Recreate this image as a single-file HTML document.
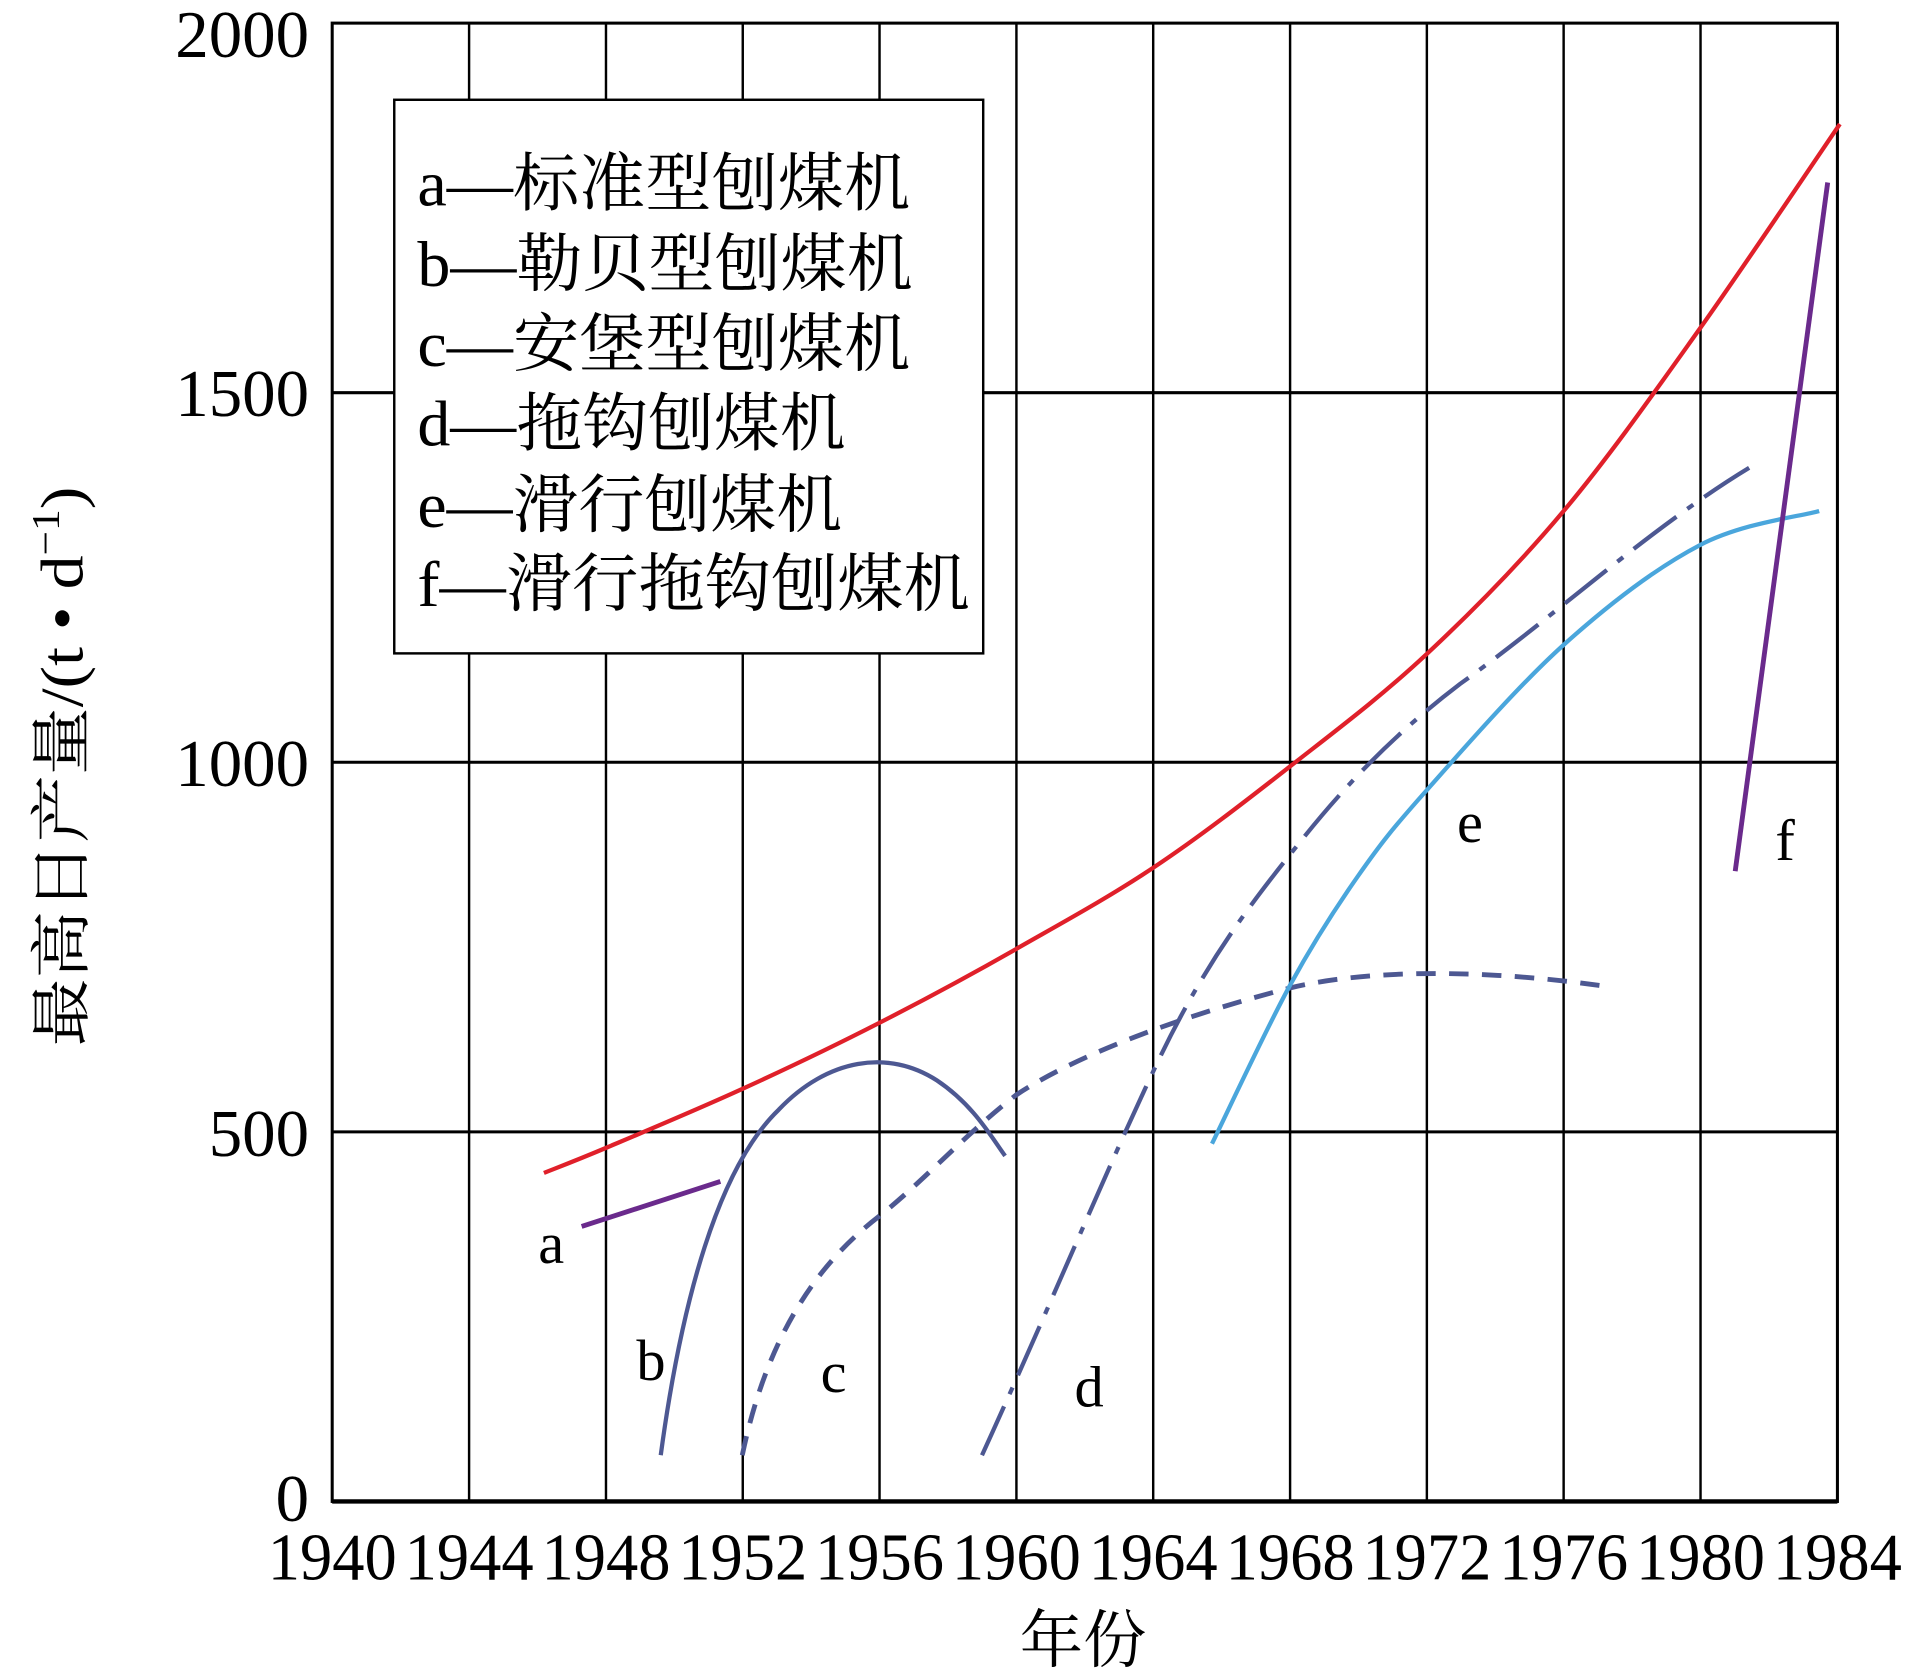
<!DOCTYPE html>
<html><head><meta charset="utf-8"><style>
html,body{margin:0;padding:0;background:#fff;}
svg{display:block;}
text{font-family:"Liberation Serif","Noto Serif CJK SC","Noto Sans CJK SC",serif;fill:#000;}
</style></head><body>
<svg width="1908" height="1673" viewBox="0 0 1568 1375" preserveAspectRatio="none" xmlns="http://www.w3.org/2000/svg">
<rect width="1568" height="1375" fill="#fff"/>
<g stroke="#000" stroke-width="2" fill="none">
<line x1="385.5" y1="19" x2="385.5" y2="1234"/>
<line x1="498" y1="19" x2="498" y2="1234"/>
<line x1="610.4" y1="19" x2="610.4" y2="1234"/>
<line x1="722.8" y1="19" x2="722.8" y2="1234"/>
<line x1="835.3" y1="19" x2="835.3" y2="1234"/>
<line x1="947.7" y1="19" x2="947.7" y2="1234"/>
<line x1="1060.2" y1="19" x2="1060.2" y2="1234"/>
<line x1="1172.6" y1="19" x2="1172.6" y2="1234"/>
<line x1="1285" y1="19" x2="1285" y2="1234"/>
<line x1="1397.5" y1="19" x2="1397.5" y2="1234"/>
<line x1="273" y1="322.75" x2="1510" y2="322.75" stroke-width="2.5"/>
<line x1="273" y1="626.5" x2="1510" y2="626.5" stroke-width="2.5"/>
<line x1="273" y1="930.25" x2="1510" y2="930.25" stroke-width="2.5"/>
<rect x="273" y="19" width="1237" height="1215" stroke-width="2.5"/>
<line x1="273" y1="1234" x2="1510" y2="1234" stroke-width="3.5"/>
</g>
<rect x="324" y="82" width="484" height="455" fill="#fff" stroke="#000" stroke-width="2"/>
<g font-size="53">
<text x="343" y="169" textLength="405" lengthAdjust="spacingAndGlyphs">a—标准型刨煤机</text>
<text x="343" y="235" textLength="407" lengthAdjust="spacingAndGlyphs">b—勒贝型刨煤机</text>
<text x="343" y="301" textLength="405" lengthAdjust="spacingAndGlyphs">c—安堡型刨煤机</text>
<text x="343" y="366" textLength="352" lengthAdjust="spacingAndGlyphs">d—拖钩刨煤机</text>
<text x="343" y="433" textLength="349" lengthAdjust="spacingAndGlyphs">e—滑行刨煤机</text>
<text x="343" y="498" textLength="454" lengthAdjust="spacingAndGlyphs">f—滑行拖钩刨煤机</text>
</g>
<g font-size="55" text-anchor="end">
<text x="254" y="47">2000</text>
<text x="254" y="342">1500</text>
<text x="254" y="646">1000</text>
<text x="254" y="950">500</text>
<text x="254" y="1250">0</text>
</g>
<g font-size="55" text-anchor="middle">
<text x="273" y="1298" textLength="106" lengthAdjust="spacingAndGlyphs">1940</text>
<text x="385.5" y="1298" textLength="106" lengthAdjust="spacingAndGlyphs">1944</text>
<text x="498" y="1298" textLength="106" lengthAdjust="spacingAndGlyphs">1948</text>
<text x="610.4" y="1298" textLength="106" lengthAdjust="spacingAndGlyphs">1952</text>
<text x="722.8" y="1298" textLength="106" lengthAdjust="spacingAndGlyphs">1956</text>
<text x="835.3" y="1298" textLength="106" lengthAdjust="spacingAndGlyphs">1960</text>
<text x="947.7" y="1298" textLength="106" lengthAdjust="spacingAndGlyphs">1964</text>
<text x="1060.2" y="1298" textLength="106" lengthAdjust="spacingAndGlyphs">1968</text>
<text x="1172.6" y="1298" textLength="106" lengthAdjust="spacingAndGlyphs">1972</text>
<text x="1285" y="1298" textLength="106" lengthAdjust="spacingAndGlyphs">1976</text>
<text x="1397.5" y="1298" textLength="106" lengthAdjust="spacingAndGlyphs">1980</text>
<text x="1510" y="1298" textLength="106" lengthAdjust="spacingAndGlyphs">1984</text>
</g>
<text x="890" y="1366" font-size="52" text-anchor="middle">年份</text>
<text transform="translate(68,630) rotate(-90)" font-size="50" text-anchor="middle" textLength="460" lengthAdjust="spacingAndGlyphs">最高日产量/(t • d<tspan font-size="32" dy="-20">−1</tspan><tspan dy="20">)</tspan></text>
<g fill="none" stroke-linecap="butt" stroke-linejoin="round">
<path d="M447,964 C455.7,960.5 471.8,954.5 499,943 C526.2,931.5 572.8,912 610,895 C647.2,878 684.5,860.2 722,841 C759.5,821.8 797.3,801.5 835,780 C872.7,758.5 910.5,738 948,713 C985.5,688 1022.7,659.2 1060,630 C1097.3,600.8 1134.5,573 1172,538 C1209.5,503 1247.5,464.7 1285,420 C1322.5,375.3 1359.2,323 1397,270 C1434.8,216.7 1492.8,130 1512,102" stroke="#e0202a" stroke-width="3.5"/>
<line x1="478" y1="1008" x2="592" y2="971" stroke="#6a2a8c" stroke-width="4"/>
<path d="M543,1196 C560,1070 590,960 640,912 C680,870 730,862 770,888 C800,908 815,935 826,950" stroke="#4d5892" stroke-width="3.5"/>
<path d="M610,1196 C630,1100 670,1040 722,1000 C760,970 790,935 835,900 C880,870 960,838 1060,812 C1130,795 1230,798 1315,810" stroke="#4d5892" stroke-width="4" stroke-dasharray="16,11"/>
<path d="M807,1196 C860,1080 910,960 948,880 C990,790 1030,740 1070,690 C1110,640 1150,600 1200,562 C1280,505 1360,430 1445,380" stroke="#4d5892" stroke-width="3.5" stroke-dasharray="44,11,6,11"/>
<path d="M996,940 C1006.7,918.3 1040,846.7 1060,810 C1080,773.3 1097.3,746.7 1116,720 C1134.7,693.3 1143.8,681.7 1172,650 C1200.2,618.3 1247.5,563.7 1285,530 C1322.5,496.3 1362,466.3 1397,448 C1432,429.7 1478.7,424.7 1495,420" stroke="#4aa6dc" stroke-width="3.5"/>
<line x1="1426" y1="716" x2="1502" y2="150" stroke="#6a2a8c" stroke-width="4"/>
</g>
<g font-size="48" text-anchor="middle">
<text x="453" y="1038">a</text>
<text x="535" y="1134">b</text>
<text x="685" y="1144">c</text>
<text x="895" y="1156">d</text>
<text x="1208" y="692">e</text>
<text x="1467" y="707">f</text>
</g>
</svg>
</body></html>
